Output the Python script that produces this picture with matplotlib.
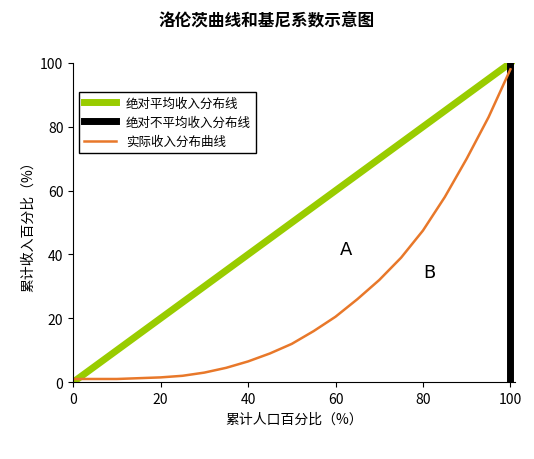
import matplotlib.pyplot as plt

plt.rcParams['font.family'] = ['Noto Sans CJK SC', 'DejaVu Sans']

# data
equal_x = [0, 100]
equal_y = [0, 100]
unequal_x = [100, 100]
unequal_y = [0, 100]
curve_x = [0, 10, 20, 25, 30, 35, 40, 45, 50, 55, 60, 65, 70, 75, 80, 85, 90, 95, 100]
curve_y = [1, 1, 1.5, 2, 3, 4.5, 6.5, 9, 12, 16, 20.5, 26, 32, 39, 47.5, 58, 70, 83, 98]

fig = plt.figure(figsize=(5.34, 4.6), dpi=100)
ax = fig.add_axes([0.137, 0.167, 0.827, 0.694])

ax.plot(equal_x, equal_y, color='#99cc00', linewidth=5, label='绝对平均收入分布线')
ax.plot(unequal_x, unequal_y, color='black', linewidth=5, label='绝对不平均收入分布线')
ax.plot(curve_x, curve_y, color='#e8782a', linewidth=1.8, label='实际收入分布曲线')

ax.text(61, 40, 'A', fontsize=13, family='DejaVu Sans')
ax.text(80, 33, 'B', fontsize=13, family='DejaVu Sans')

ax.set_xlim(0, 101)
ax.set_ylim(0, 100)
ax.set_xticks([0, 20, 40, 60, 80, 100])
ax.set_yticks([0, 20, 40, 60, 80, 100])
ax.tick_params(labelsize=10)
ax.spines['top'].set_visible(False)
ax.spines['right'].set_visible(False)

ax.set_xlabel('累计人口百分比（%）', fontsize=10)
ax.set_ylabel('累计收入百分比（%）', fontsize=10)
fig.suptitle('洛伦茨曲线和基尼系数示意图', fontsize=12, fontweight='bold', y=0.975)

ax.legend(loc='upper left', bbox_to_anchor=(0.0, 0.93), fontsize=9,
          fancybox=False, edgecolor='black', framealpha=1, handlelength=2.5)

fig.savefig('out.png', dpi=100)
